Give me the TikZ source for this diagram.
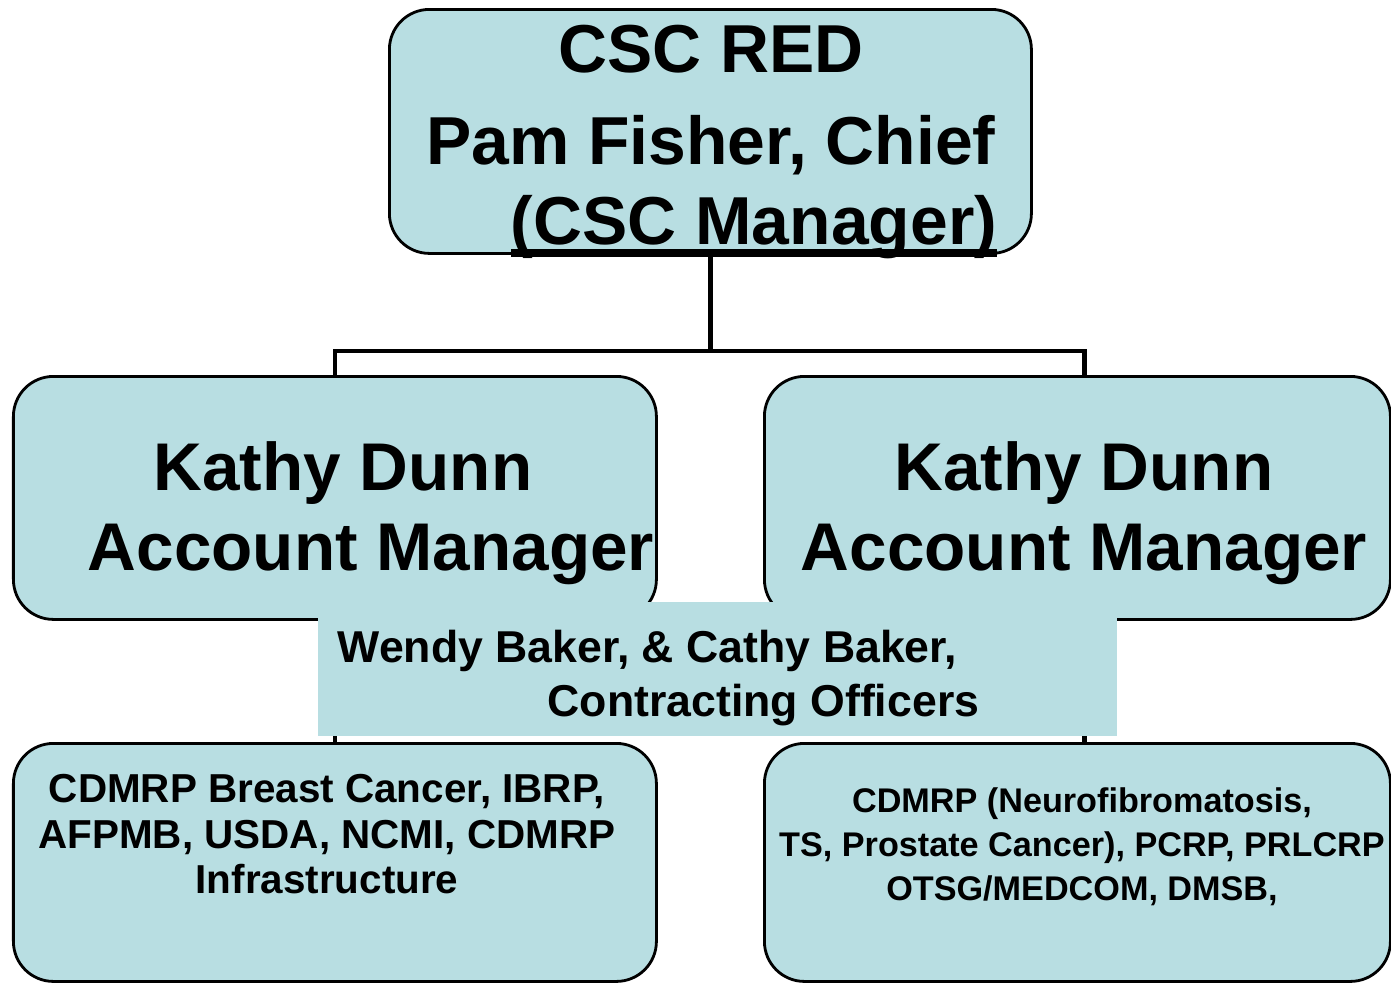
\documentclass[tikz,border=0pt]{standalone}
\usepackage{fontspec}
\newfontfamily\orgfont{Liberation Sans}
\definecolor{boxfill}{RGB}{184,222,226}
\newcommand\ulthick[1]{\setbox0=\hbox{#1}\rlap{\rule[-0.13cm]{\wd0}{0.08cm}}\box0}
\begin{document}
\begin{tikzpicture}[
		orgbox/.style={draw, line width=0.8pt, fill=boxfill, rounded corners=0.4cm, inner sep=0pt, anchor=north west},
		link/.style={line width=1.3pt},
		bigtxt/.style={inner sep=0pt, anchor=north, align=center, font=\orgfont\bfseries\fontsize{19.2pt}{22.8pt}\selectfont},
	]
			\useasboundingbox (0,0) rectangle (13.91,-9.83);
			\node[orgbox, minimum width=6.42cm, minimum height=2.44cm] (ceo) at (3.88,-0.08) {};
			\node[orgbox, minimum width=6.43cm, minimum height=2.43cm] (kd1) at (0.12,-3.75) {};
			\node[orgbox, minimum width=6.26cm, minimum height=2.43cm] (kd2) at (7.63,-3.75) {};
			\node[orgbox, minimum width=6.43cm, minimum height=2.38cm] (prog1) at (0.12,-7.42) {};
			\node[orgbox, minimum width=6.26cm, minimum height=2.38cm] (prog2) at (7.63,-7.42) {};
			\coordinate (fork) at ([yshift=-0.96cm]ceo.south);
			\draw[link] (ceo.south) -- (fork) -| (kd1.north);
			\draw[link] (fork) -| ([xshift=0.07cm]kd2.north);
			\draw[link] (kd1.south) -- (prog1.north);
			\draw[link] ([xshift=0.07cm]kd2.south) -- ([xshift=0.07cm]prog2.north);
			\node[fill=boxfill, inner sep=0pt, anchor=north west, minimum width=7.99cm, minimum height=1.34cm] (co) at (3.17,-6.01) {};
			\node[bigtxt, font=\orgfont\bfseries\fontsize{19.3pt}{22.8pt}\selectfont] (ceotext) at (7.11,-0.24) {CSC RED\\[0.12cm] Pam Fisher, Chief\\ \hspace*{0.86cm}\ulthick{(CSC Manager)}};
			\node[bigtxt] (kd1text) at (3.43,-4.41) {Kathy Dunn\\ \hspace*{0.56cm}Account Manager};
			\node[bigtxt] (kd2text) at (10.84,-4.41) {Kathy Dunn\\ Account Manager};
			\node[inner sep=0pt, anchor=north west, align=left, font=\orgfont\bfseries\fontsize{12.7pt}{15.6pt}\selectfont] (cotext) at (3.37,-6.29) {Wendy Baker, \& Cathy Baker,\\ \hspace*{2.1cm}Contracting Officers};
			\node[inner sep=0pt, anchor=north, align=center, font=\orgfont\bfseries\fontsize{11.5pt}{12.9pt}\selectfont] (prog1text) at (3.27,-7.74) {CDMRP Breast Cancer, IBRP,\\ AFPMB, USDA, NCMI, CDMRP\\ Infrastructure};
			\node[inner sep=0pt, anchor=north, align=center, font=\orgfont\bfseries\fontsize{9.73pt}{12.5pt}\selectfont] (prog2text) at (10.82,-7.87) {CDMRP (Neurofibromatosis,\\ TS, Prostate Cancer), PCRP, PRLCRP\\ OTSG/MEDCOM, DMSB,};
			\end{tikzpicture}
\end{document}
